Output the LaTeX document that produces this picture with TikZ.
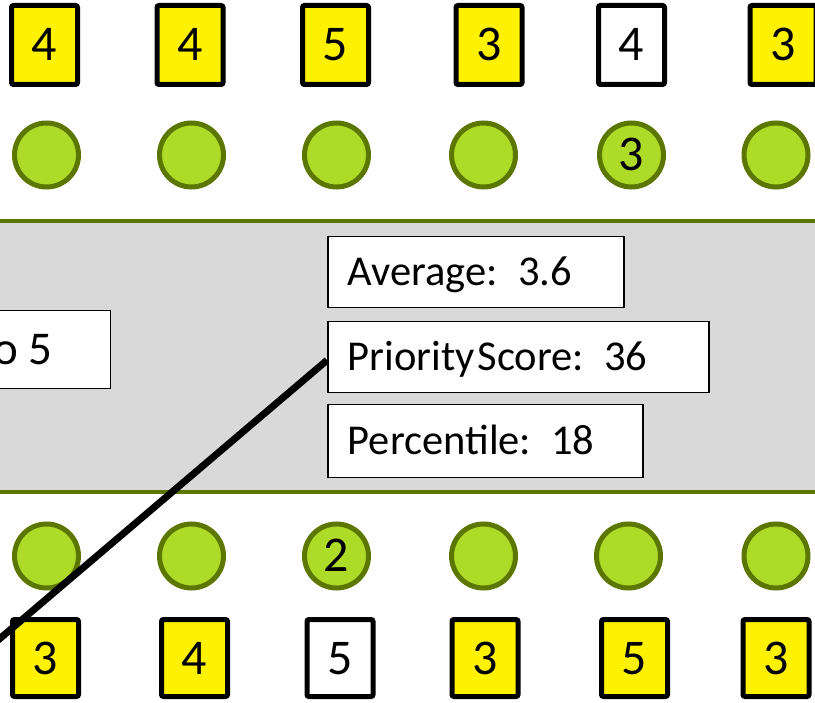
\documentclass[tikz,border=0pt]{standalone}
\usepackage{fontspec}
\setmainfont{Carlito}
\definecolor{dotedge}{HTML}{5B7700}
\definecolor{dotfill}{HTML}{AEDA28}
\definecolor{bandgray}{HTML}{D9D9D9}
\definecolor{bandline}{HTML}{5B7700}
\newcommand{\gapsp}{\ \hspace{6pt}}
\begin{document}
\begin{tikzpicture}[x=1pt,y=-1pt,
  digitfont/.style={font=\fontsize{50}{60}\selectfont, text height=32pt, text depth=0pt},
  score/.style={draw=black, line width=5pt, rounded corners=2pt, fill=yellow,
    minimum width=66pt, inner sep=0pt, digitfont},
  toprow/.style={score, minimum height=79pt},
  botrow/.style={score, minimum height=77pt},
  plain/.style={fill=white},
  dot/.style={circle, draw=dotedge, line width=5pt, fill=dotfill,
    minimum size=64pt, inner sep=0pt, digitfont},
  stat/.style={draw=black, line width=1.5pt, fill=white, anchor=north west,
    inner xsep=20pt, inner ysep=0pt, align=left,
    font=\fontsize{42.5}{50}\selectfont, text height=27pt, text depth=0pt},
  link/.style={draw=black, line width=7pt}
]
\useasboundingbox (0,0) rectangle (815,703);
\clip (0,0) rectangle (815,703);
\fill[white] (0,0) rectangle (815,703);

% shaded band with its olive rules
\fill[bandgray] (-5,221) rectangle (820,492);
\draw[bandline, line width=4pt] (-5,221) -- (820,221);
\draw[bandline, line width=4pt] (-5,492) -- (820,492);

% top row of scores
\node[toprow] (t1) at (44.5,45) {4};
\node[toprow] (t2) at (190,45) {4};
\node[toprow] (t3) at (335.5,45) {5};
\node[toprow] (t4) at (489,45) {3};
\node[toprow, plain] (t5) at (631.5,45) {4};
\node[toprow] (t6) at (783,45) {3};

% top row of markers
\node[dot] (c1) at (46.5,155) {};
\node[dot] (c2) at (191.5,155) {};
\node[dot] (c3) at (336.5,155) {};
\node[dot] (c4) at (483.5,155) {};
\node[dot] (c5) at (631.5,155) {3};
\node[dot] (c6) at (776,155) {};

% summary boxes
\node[draw=black, line width=1.5pt, fill=white, anchor=north east,
  minimum height=78pt, inner xsep=58pt, inner ysep=0pt,
  font=\fontsize{47}{56}\selectfont, text height=30pt, text depth=0pt]
  (range) at (111,310) {to 5};
\node[stat, text width=256pt, minimum height=71pt] (avg) at (327,236) {Average:\gapsp 3.6};
\node[stat, text width=341pt, minimum height=71pt] (prio) at (327,321) {Priority\hspace{3pt}Score:\gapsp 36};
\node[stat, text width=275pt, minimum height=73pt] (pct) at (327,404) {Percentile:\gapsp 18};

% bottom row of markers
\node[dot] (d1) at (46.5,556) {};
\node[dot] (d2) at (191.5,556) {};
\node[dot] (d3) at (336.5,556) {2};
\node[dot] (d4) at (483.5,556) {};
\node[dot] (d5) at (628.5,556) {};
\node[dot] (d6) at (776,556) {};

% bottom row of scores
\node[botrow] (b1) at (45.5,658) {3};
\node[botrow] (b2) at (194.5,658) {4};
\node[botrow, plain] (b3) at (340,658) {5};
\node[botrow] (b4) at (485,658) {3};
\node[botrow] (b5) at (634.5,658) {5};
\node[botrow] (b6) at (776,658) {3};

% pointer into the priority score
\coordinate (tail) at (-30,664);
\draw[link] ([yshift=-3pt]prio.west) -- (tail);
\end{tikzpicture}
\end{document}
